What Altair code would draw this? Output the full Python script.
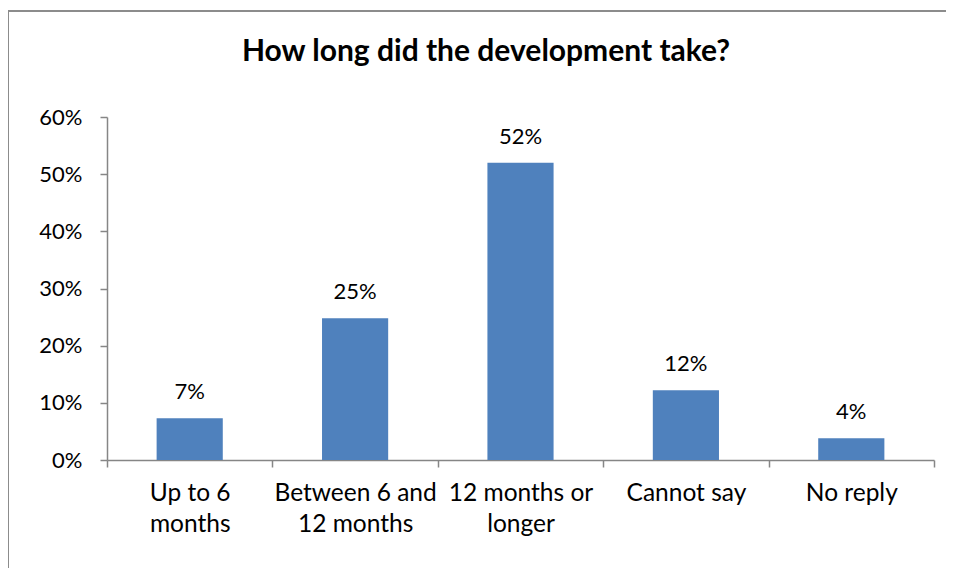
import altair as alt
import pandas as pd

categories = ["Up to 6 months", "Between 6 and 12 months", "12 months or longer", "Cannot say", "No reply"]
label_lines = [["Up to 6", "months"], ["Between 6 and", "12 months"], ["12 months or", "longer"], ["Cannot say"], ["No reply"]]
shares = [0.073, 0.248, 0.52, 0.122, 0.038]
y_ticks = [0, 0.1, 0.2, 0.3, 0.4, 0.5, 0.6]
title_text = "How long did the development take?"

df = pd.DataFrame({"category": categories, "share": shares})

parts = []
for c, lines in zip(categories, label_lines):
    arr = "[" + ",".join("'" + l + "'" for l in lines) + "]"
    parts.append(f"datum.value == '{c}' ? {arr}")
label_expr = " : ".join(parts) + " : datum.value"

FONT = "Lato"
GRAY = "#868686"

x = alt.X(
    "category:N",
    sort=categories,
    scale=alt.Scale(paddingInner=0, paddingOuter=0),
    axis=alt.Axis(
        title=None,
        labelAngle=0,
        labelExpr=label_expr,
        labelFont=FONT,
        labelFontSize=24.5,
        labelColor="#000000",
        labelLineHeight=31,
        labelPadding=14,
        labelBaseline="top",
        domainColor=GRAY,
        domainWidth=1.5,
        tickColor=GRAY,
        tickWidth=1.5,
        tickSize=7,
        tickBand="extent",
        labelLimit=300,
    ),
)
y = alt.Y(
    "share:Q",
    scale=alt.Scale(domain=[0, 0.6], nice=False),
    axis=alt.Axis(
        title=None,
        values=y_ticks,
        format=".0%",
        grid=False,
        labelFont=FONT,
        labelFontSize=22,
        labelColor="#000000",
        labelPadding=18,
        domainColor=GRAY,
        domainWidth=1.5,
        tickColor=GRAY,
        tickWidth=1.5,
        tickSize=7,
    ),
)

bars = alt.Chart(df).mark_bar(color="#4F81BD", width=alt.RelativeBandSize(0.4)).encode(x=x, y=y)
labels = alt.Chart(df).mark_text(
    font=FONT, fontSize=22, color="#000000", baseline="alphabetic", dy=-19
).encode(x=alt.X("category:N", sort=categories), y="share:Q", text=alt.Text("share:Q", format=".0%"))

one = pd.DataFrame({"k": [0]})
top_line = alt.Chart(one).mark_rule(stroke="#8c8c8c", strokeWidth=2).encode(
    x=alt.value(-99), x2=alt.value(839), y=alt.value(-106)
)
left_line = alt.Chart(one).mark_rule(stroke="#8c8c8c", strokeWidth=2).encode(
    x=alt.value(-99), y=alt.value(-107), y2=alt.value(460)
)
title = alt.Chart(one).mark_text(
    text=title_text, font=FONT, fontSize=30, fontWeight="bold", color="#000000",
    align="center", baseline="alphabetic",
).encode(x=alt.value(379), y=alt.value(-56))

chart = alt.layer(top_line, left_line, title, bars, labels).properties(
    width=827,
    height=343,
    autosize=alt.AutoSizeParams(type="none"),
    padding={"left": 99, "top": 109, "right": 13, "bottom": 108},
).configure_view(stroke=None)

chart.save("out.html", embed_options={"renderer": "svg", "actions": False})
